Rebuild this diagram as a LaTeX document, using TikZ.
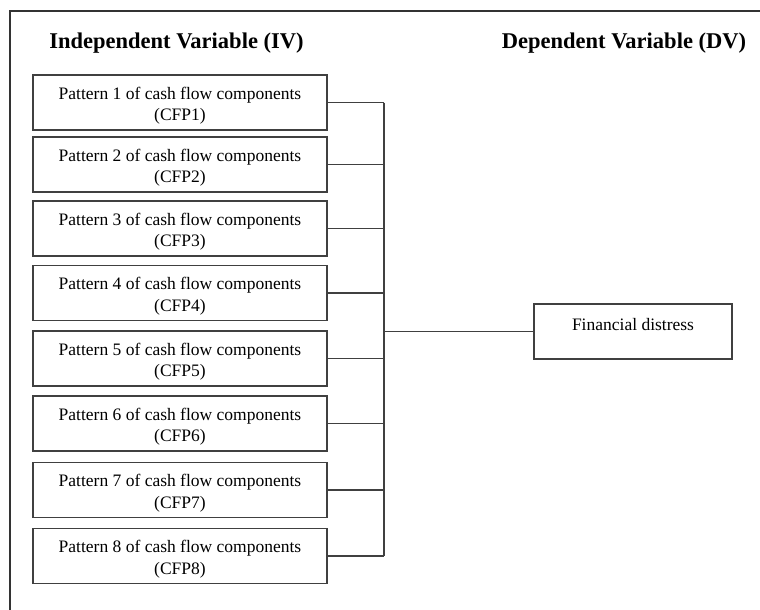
\documentclass[tikz,border=0pt]{standalone}
\usepackage{fontspec}
\setmainfont{Liberation Serif}
\newcommand{\toppad}{\rule{0pt}{19pt}}
\begin{document}
\begin{tikzpicture}[x=1pt,y=-1pt,
  cfpbox/.style={draw=black!75,line width=1.1pt,minimum width=294pt,minimum height=55pt,align=center,inner sep=0pt,font=\fontsize{17.5}{21.5}\selectfont},
  head/.style={font=\fontsize{22.5}{26}\selectfont\bfseries,inner sep=0pt},
  conn/.style={draw=black!75,line width=1.1pt},
  frame/.style={draw=black!80,line width=1.3pt}]
\useasboundingbox (0,0) rectangle (760,610);
\draw[frame] (10,610) -- (10,11) -- (760,11);
\node[head] (iv) at (176.5,43) {Independent Variable (IV)};
\node[head] (dv) at (624,43) {Dependent Variable (DV)};
\foreach \i/\y in {1/102.5,2/164.5,3/228.5,4/293,5/358.5,6/423.5,7/490,8/556}{
  \node[cfpbox] (b\i) at (180,\y) {\toppad Pattern \i\ of cash flow components\\(CFP\i)};
}
\coordinate (bt) at (384,102.5);
\coordinate (bb) at (384,556);
\node[cfpbox,minimum width=198pt,minimum height=55pt] (fd) at (633,331.5) {\toppad Financial distress\\\mbox{}};
\draw[conn] (bt) -- (bb);
\foreach \i in {1,...,8}{
  \draw[conn] (b\i.east) -- (b\i.east -| bt);
}
\draw[conn] (fd.west -| bt) -- (fd.west);
\end{tikzpicture}
\end{document}
